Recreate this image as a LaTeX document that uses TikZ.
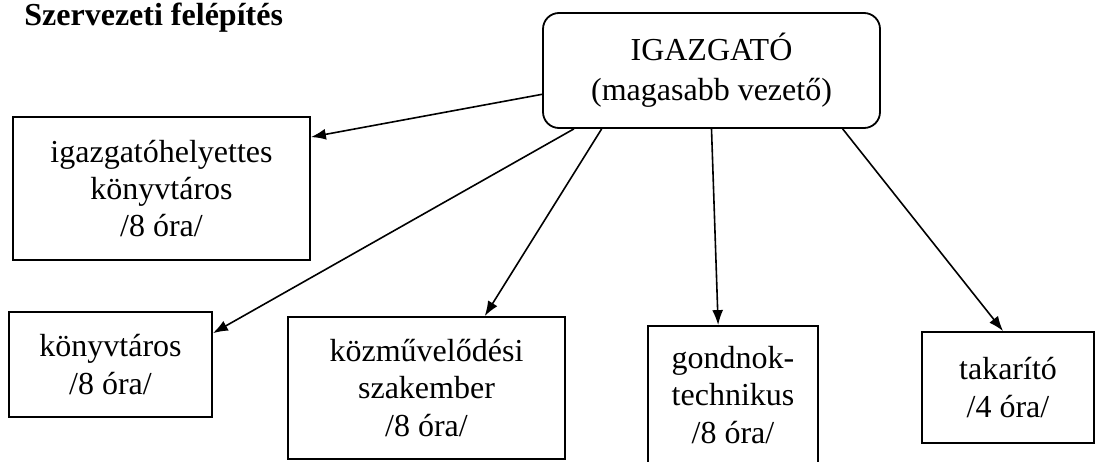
\documentclass[tikz,border=0pt]{standalone}
\usepackage{fontspec}
\setmainfont{Liberation Serif}
\usetikzlibrary{arrows.meta,positioning}
\tikzset{%
	headbox/.style  = {draw, rectangle, rounded corners=8pt, line width=0.9pt, inner sep=0pt, align=center, font=\fontsize{16}{20}\selectfont},
	staffbox/.style = {draw, rectangle, line width=0.9pt, inner sep=0pt, align=center, font=\fontsize{16}{18.6}\selectfont},
	connector/.style= {line width=0.8pt, -{Latex[length=7.5pt,width=5.5pt]}},
}

\begin{document}
\begin{tikzpicture}[x=0.5pt,y=-0.5pt]
	\useasboundingbox (0,0) rectangle (1096,461);
	
	\node[anchor=base west, inner sep=0pt, font=\fontsize{16}{19}\selectfont\bfseries] (title) at (24,25) {Szervezeti felépítés};
	
	\node[headbox, minimum width=168.5pt, minimum height=57.5pt] (igazgato) at (711.5,70.5) {IGAZGATÓ\\(magasabb vezető)};
	
	\node[staffbox, minimum width=148.5pt, minimum height=71.5pt] (helyettes) at (161.5,188.5) {igazgatóhelyettes\\könyvtáros\\/8 óra/};
	\node[staffbox, minimum width=101.5pt, minimum height=52.5pt] (konyvtaros) at (110.5,364.5) {könyvtáros\\/8 óra/};
	\node[staffbox, minimum width=138.5pt, minimum height=71pt] (szakember) at (426.5,388) {közművelődési\\szakember\\/8 óra/};
	\node[staffbox, minimum width=85pt, minimum height=69pt] (gondnok) at (733,395) {gondnok-\\technikus\\/8 óra/};
	\node[staffbox, minimum width=86pt, minimum height=55.5pt] (takarito) at (1008,387.5) {takarító\\/4 óra/};
	
	\draw[connector] (igazgato.188) -- (helyettes.19);
	\draw[connector] (igazgato.203) -- (konyvtaros.17);
	\draw[connector] (igazgato.208) -- (szakember.51);
	\draw[connector] (igazgato.south) -- (gondnok.102);
	\draw[connector] (igazgato.336) -- (takarito.95);
\end{tikzpicture}
\end{document}
